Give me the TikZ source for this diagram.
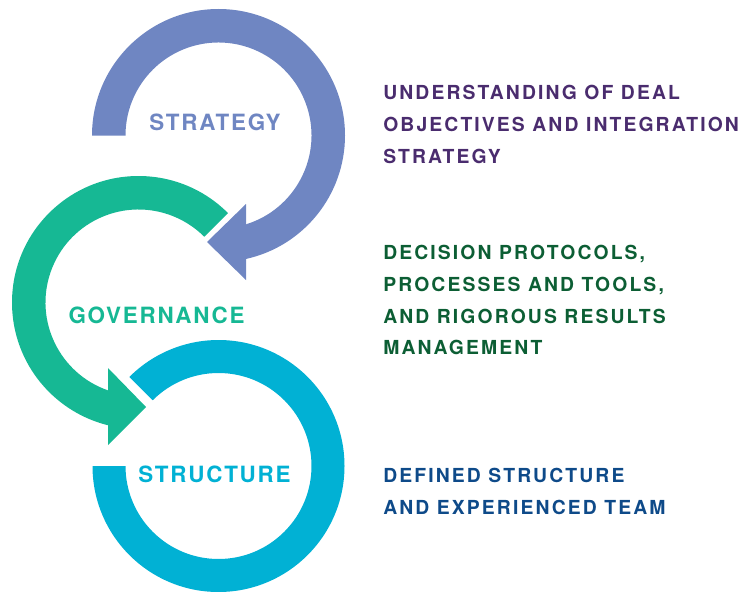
\documentclass[tikz,border=0pt]{standalone}
\usepackage{fontspec}
\usetikzlibrary{calc}
\newfontfamily\lblfont[LetterSpace=8]{TeX Gyre Heros}
\newfontfamily\descfont[LetterSpace=11]{TeX Gyre Heros}
\definecolor{cstrat}{RGB}{111,134,194}
\definecolor{cgov}{RGB}{22,184,148}
\definecolor{cstruct}{RGB}{1,177,212}
\definecolor{tstrat}{RGB}{74,44,110}
\definecolor{tgov}{RGB}{12,94,52}
\definecolor{tstruct}{RGB}{14,74,137}
\tikzset{
  ringlabel/.style={inner sep=0pt, anchor=center, font=\lblfont\bfseries\fontsize{16.8}{20}\selectfont},
  desc/.style={inner sep=0pt, anchor=north west, align=left, font=\descfont\bfseries\fontsize{14.5}{23.8}\selectfont}
}
\begin{document}
\begin{tikzpicture}[x=0.75pt,y=0.75pt]
\useasboundingbox (0,0) rectangle (746,-592);
\coordinate (cs) at (218.5,-135.5);
\coordinate (cg) at (138.5,-302.5);
\coordinate (cb) at (218.5,-466);
% strategy ring
\fill[cstrat] ($(cs)+(180:126.5)$) arc[start angle=180,end angle=-77.4,radius=126.5]
  -- ($(cs)+(-72.7:93)$) arc[start angle=-72.7,end angle=180,radius=93] -- cycle;
\fill[cstrat] (246,-204) -- (246,-280) -- (207,-242) -- cycle;
% governance ring
\fill[cgov] ($(cg)+(45:126.5)$) arc[start angle=45,end angle=256,radius=126.5]
  -- ($(cg)+(250.9:93)$) arc[start angle=250.9,end angle=45,radius=93] -- cycle;
\fill[cgov] (108,-368) -- (108,-445) -- (146,-407) -- cycle;
% structure ring
\fill[cstruct] ($(cb)+(180:126)$) arc[start angle=180,end angle=495,radius=126]
  -- ($(cb)+(135:93)$) arc[start angle=495,end angle=180,radius=93] -- cycle;
% labels
\node[ringlabel, text=cstrat] (lstrat) at (215,-122.5) {STRATEGY};
\node[ringlabel, text=cgov] (lgov) at (156.5,-315) {GOVERNANCE};
\node[ringlabel, text=cstruct] (lstruct) at (214.5,-474.7) {STRUCTURE};
% descriptions
\node[desc, text=tstrat] (dstrat) at (383,-85) {UNDERSTANDING OF DEAL\\OBJECTIVES AND INTEGRATION\\STRATEGY};
\node[desc, text=tgov] (dgov) at (383,-245) {DECISION PROTOCOLS,\\PROCESSES AND TOOLS,\\AND RIGOROUS RESULTS\\MANAGEMENT};
\node[desc, text=tstruct] (dstruct) at (383,-468.3) {DEFINED STRUCTURE\\AND EXPERIENCED TEAM};
\end{tikzpicture}
\end{document}
